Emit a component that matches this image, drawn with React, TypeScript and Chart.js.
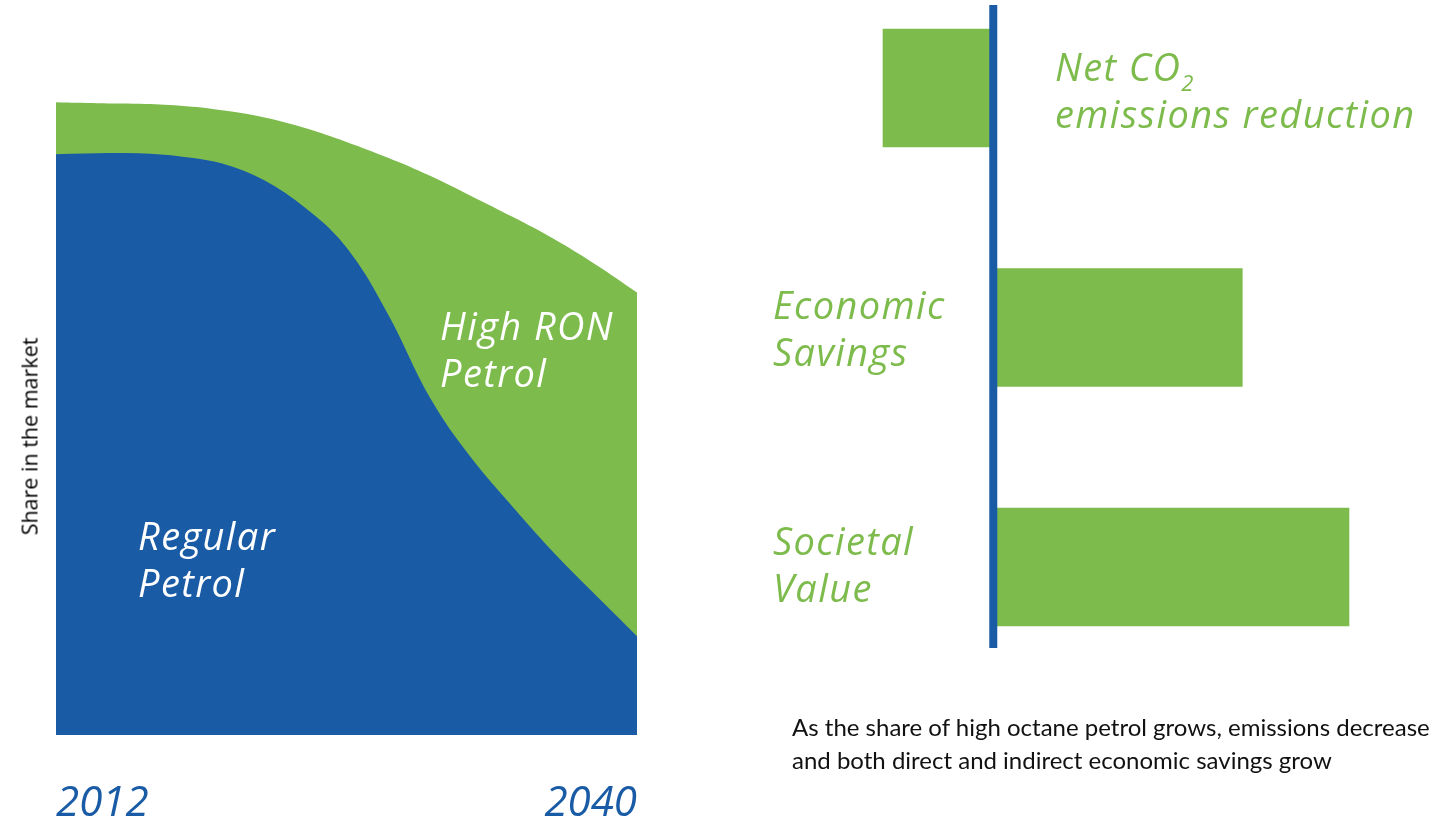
import React, { useEffect, useRef } from 'react';
import { Chart, registerables } from 'chart.js';

Chart.register(...registerables);

// ---- Data ----
const years = [2012, 2014, 2016, 2018, 2020, 2022, 2024, 2026, 2028, 2030, 2032, 2034, 2036, 2038, 2040];
const regularShare = [91.35, 91.5, 91.5, 91.0, 89.9, 87.3, 82.9, 76.6, 66.0, 53.0, 43.5, 35.8, 28.5, 21.9, 15.4];
const highRonShare = [8.3, 8.0, 7.9, 8.1, 8.5, 10.0, 12.7, 16.8, 24.9, 35.1, 41.4, 45.8, 49.6, 52.2, 54.3];
const yearTicks = [2012, 2040];

const benefitCategories = ['Net CO2 emissions reduction', 'Economic Savings', 'Societal Value'];
const benefitValues = [-31, 70, 100];

const BLUE = '#1a5ba6';
const GREEN = '#7dbb4c';

const zeroLinePlugin = {
  id: 'zeroLine',
  afterDatasetsDraw(chart: any) {
    const { ctx, chartArea, scales } = chart;
    const x = scales.x.getPixelForValue(0);
    ctx.save();
    ctx.fillStyle = BLUE;
    ctx.fillRect(x - 4, chartArea.top - 83, 8, chartArea.bottom - chartArea.top + 164);
    ctx.restore();
  },
};

const labelStyle: React.CSSProperties = {
  position: 'absolute',
  fontFamily: '"Open Sans", sans-serif',
  fontStyle: 'italic',
  fontSize: 38,
  lineHeight: '47px',
  letterSpacing: '1.4px',
  whiteSpace: 'nowrap',
};

export default function App() {
  const areaRef = useRef<HTMLCanvasElement>(null);
  const barRef = useRef<HTMLCanvasElement>(null);

  useEffect(() => {
    const area = new Chart(areaRef.current as HTMLCanvasElement, {
      type: 'line',
      data: {
        datasets: [
          {
            label: 'Regular Petrol',
            data: years.map((y, i) => ({ x: y, y: regularShare[i] })),
            fill: 'origin',
            backgroundColor: BLUE,
            borderColor: BLUE,
            borderWidth: 1.5,
            pointRadius: 0,
            tension: 0.4,
          },
          {
            label: 'High RON Petrol',
            data: years.map((y, i) => ({ x: y, y: highRonShare[i] })),
            fill: '-1',
            backgroundColor: GREEN,
            borderColor: GREEN,
            borderWidth: 0,
            pointRadius: 0,
            tension: 0.4,
          },
        ],
      },
      options: {
        responsive: false,
        animation: false,
        layout: { padding: { left: 56, right: 23, top: 100, bottom: 4.5 } },
        plugins: { legend: { display: false }, tooltip: { enabled: false } },
        scales: {
          x: {
            type: 'linear',
            min: 2012,
            max: 2040,
            grid: { display: false, drawTicks: true, tickLength: 48.5 },
            border: { display: false },
            afterBuildTicks: (s: any) => {
              s.ticks = yearTicks.map((v) => ({ value: v }));
            },
            ticks: {
              align: 'inner',
              maxRotation: 0,
              autoSkip: false,
              padding: 0,
              color: BLUE,
              font: { family: '"Open Sans"', style: 'italic', size: 42, lineHeight: 1 },
              callback: (v: any) => String(v),
            },
          },
          y: { display: false, stacked: true, min: 0, max: 100 },
        },
      } as any,
    });

    const bar = new Chart(barRef.current as HTMLCanvasElement, {
      type: 'bar',
      data: {
        labels: benefitCategories,
        datasets: [
          {
            label: 'Benefit',
            data: benefitValues,
            backgroundColor: GREEN,
            borderWidth: 0,
            barThickness: 118,
            clip: false,
          } as any,
        ],
      },
      options: {
        indexAxis: 'y',
        responsive: false,
        animation: false,
        layout: { padding: { left: 183, right: 93, top: 88, bottom: 256 } },
        plugins: { legend: { display: false }, tooltip: { enabled: false } },
        scales: {
          x: { display: false, min: -31, max: 100 },
          y: { display: false, offset: false },
        },
      } as any,
      plugins: [zeroLinePlugin],
    });

    return () => {
      area.destroy();
      bar.destroy();
    };
  }, []);

  return (
    <div
      style={{
        position: 'fixed',
        left: 0,
        top: 0,
        width: 1442,
        height: 823,
        overflow: 'hidden',
        background: '#fff',
      }}
    >
      <canvas ref={areaRef} width={660} height={830} style={{ position: 'absolute', left: 0, top: 0 }} />
      <canvas ref={barRef} width={742} height={823} style={{ position: 'absolute', left: 700, top: 0 }} />

      <div
        style={{
          position: 'absolute',
          left: -121,
          top: 426,
          width: 300,
          textAlign: 'center',
          fontFamily: '"Open Sans", sans-serif',
          fontSize: 21.5,
          lineHeight: '21px',
          color: '#000',
          transform: 'rotate(-90deg)',
          transformOrigin: 'center',
          whiteSpace: 'nowrap',
        }}
      >
        Share in the market
      </div>

      <div style={{ ...labelStyle, left: 440, top: 302, color: '#fff' }}>
        High RON
        <br />
        Petrol
      </div>
      <div style={{ ...labelStyle, left: 138, top: 512, color: '#fff' }}>
        Regular
        <br />
        Petrol
      </div>

      <div style={{ ...labelStyle, left: 1055, top: 43, color: GREEN }}>
        Net CO
        <span style={{ fontSize: 22, lineHeight: 0, position: 'relative', top: 10 }}>2</span>
        <br />
        emissions reduction
      </div>
      <div style={{ ...labelStyle, left: 773, top: 281, color: GREEN }}>
        Economic
        <br />
        Savings
      </div>
      <div style={{ ...labelStyle, left: 773, top: 517, color: GREEN }}>
        Societal
        <br />
        Value
      </div>

      <div
        style={{
          position: 'absolute',
          left: 792,
          top: 710,
          fontFamily: 'Lato, sans-serif',
          fontSize: 24,
          lineHeight: '33px',
          color: '#111',
          whiteSpace: 'nowrap',
        }}
      >
        As the share of high octane petrol grows, emissions decrease
        <br />
        and both direct and indirect economic savings grow
      </div>
    </div>
  );
}
